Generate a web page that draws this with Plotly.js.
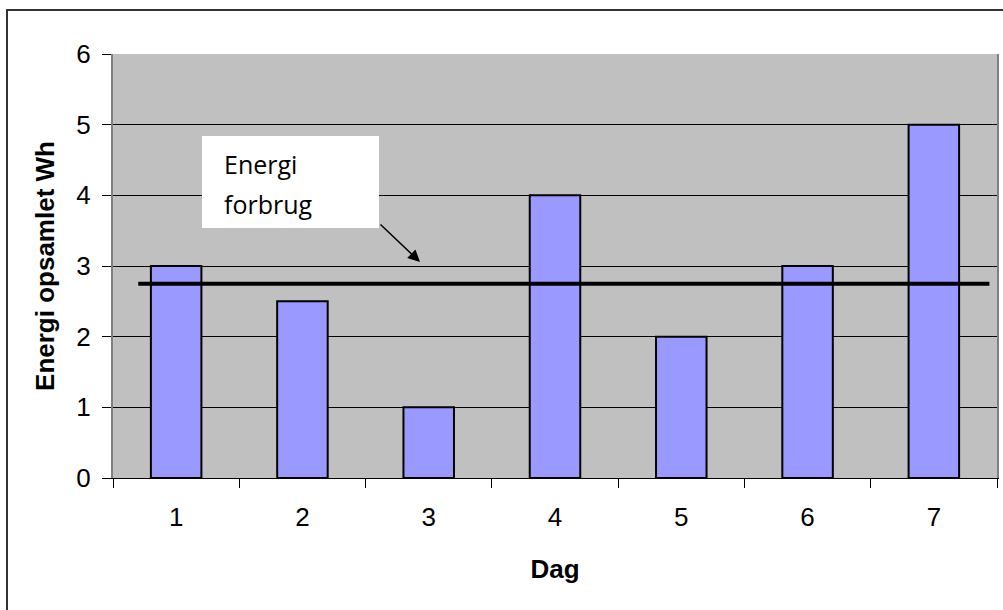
<!DOCTYPE html>
<html>
<head>
<meta charset="utf-8">
<script src="https://cdn.plot.ly/plotly-3.0.1.min.js"></script>
<style>
  html, body { margin: 0; padding: 0; background: #ffffff; }
  #chart { width: 1003px; height: 610px; }
</style>
</head>
<body>
<div id="chart"></div>
<script>
// Data
const days = ['1', '2', '3', '4', '5', '6', '7'];
const energyCollected = [3, 2.5, 1, 4, 2, 3, 5];
const consumptionLevel = 2.75;
const consumptionX = [0.7, 7.44];
const consumptionY = [consumptionLevel, consumptionLevel];
const yTickVals = [0, 1, 2, 3, 4, 5, 6];

const barTrace = {
  type: 'bar',
  x: days,
  y: energyCollected,
  marker: { color: '#9999ff', line: { color: '#000000', width: 2 } },
  hoverinfo: 'skip',
  showlegend: false
};

const lineTrace = {
  type: 'scatter',
  mode: 'lines',
  x: consumptionX,
  y: consumptionY,
  xaxis: 'x2',
  yaxis: 'y',
  line: { color: '#000000', width: 4 },
  hoverinfo: 'skip',
  showlegend: false
};

const W = 1003, H = 610;
const mL = 113, mR = 6, mT = 54, mB = 132;
const pw = W - mL - mR, ph = H - mT - mB;
const px = function (p) { return (p - mL) / pw; };
const py = function (p) { return (H - mB - p) / ph; };

const layout = {
  width: W,
  height: H,
  margin: { l: mL, r: mR, t: mT, b: mB, pad: 0 },
  paper_bgcolor: '#ffffff',
  plot_bgcolor: '#c0c0c0',
  bargap: 0.6,
  font: { family: 'Arial, "Liberation Sans", sans-serif', color: '#000000', size: 26 },
  xaxis: {
    type: 'category',
    tickson: 'boundaries',
    ticks: 'outside',
    ticklen: 9,
    tickwidth: 1,
    tickcolor: '#000000',
    showgrid: false,
    showline: true,
    linecolor: '#000000',
    linewidth: 1,
    zeroline: false,
    tickfont: { size: 26 },
    ticklabelstandoff: 16,
    title: { text: 'Dag', font: { size: 26, weight: 'bold' }, standoff: 28 },
    automargin: false,
    fixedrange: true
  },
  xaxis2: {
    overlaying: 'x',
    range: [0.5, 7.5],
    visible: false,
    fixedrange: true
  },
  yaxis: {
    range: [0, 6],
    tickvals: yTickVals,
    ticks: 'outside',
    ticklen: 9,
    tickwidth: 1,
    tickcolor: '#000000',
    showgrid: true,
    gridcolor: '#000000',
    gridwidth: 1,
    showline: true,
    linecolor: '#808080',
    linewidth: 2,
    mirror: true,
    zeroline: false,
    tickfont: { size: 26 },
    ticklabelstandoff: 6,
    title: { text: 'Energi opsamlet Wh', font: { size: 26, weight: 'bold' }, standoff: 14 },
    automargin: false,
    fixedrange: true
  },
  shapes: [
    {
      type: 'rect', xref: 'paper', yref: 'paper',
      x0: px(7), x1: px(1200), y0: py(900), y1: py(10),
      line: { color: '#333333', width: 2 }, fillcolor: 'rgba(0,0,0,0)', layer: 'below'
    },
    {
      type: 'rect', xref: 'paper', yref: 'paper',
      x0: px(202), x1: px(379), y0: py(228), y1: py(136),
      line: { width: 0 }, fillcolor: '#ffffff', layer: 'above'
    }
  ],
  annotations: [
    {
      xref: 'paper', yref: 'paper', x: px(223), y: py(164),
      xanchor: 'left', yanchor: 'middle', showarrow: false, borderpad: 0,
      text: 'Energi',
      font: { family: '"Open Sans", "Noto Sans", sans-serif', size: 25, color: '#000000' }
    },
    {
      xref: 'paper', yref: 'paper', x: px(223), y: py(204),
      xanchor: 'left', yanchor: 'middle', showarrow: false, borderpad: 0,
      text: 'forbrug',
      font: { family: '"Open Sans", "Noto Sans", sans-serif', size: 25, color: '#000000' }
    },
    {
      xref: 'paper', yref: 'paper', x: px(420), y: py(262),
      ax: -41, ay: -39, axref: 'pixel', ayref: 'pixel',
      text: '', showarrow: true,
      arrowhead: 2, arrowsize: 1.6, arrowwidth: 1.5, arrowcolor: '#000000'
    }
  ]
};

Plotly.newPlot('chart', [barTrace, lineTrace], layout, { displayModeBar: false, staticPlot: true });
</script>
</body>
</html>
